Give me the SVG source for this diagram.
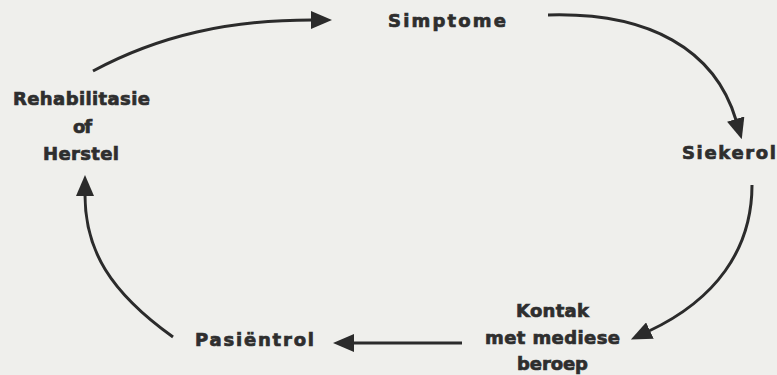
<svg xmlns="http://www.w3.org/2000/svg" width="777" height="375" viewBox="0 0 777 375">
  <style>
    .lbl { font-family: "DejaVu Sans", "Liberation Sans", sans-serif; font-weight: bold; font-size: 18px; fill: #2e2e2e; stroke: #2e2e2e; stroke-width: 0.7; }
    .conn { fill: none; stroke: #2b2b2b; stroke-width: 3; marker-end: url(#head); }
  </style>
  <defs>
    <marker id="head" markerUnits="userSpaceOnUse" markerWidth="21" markerHeight="18" refX="1" refY="9" orient="auto">
      <path d="M0,0 L21,9 L0,18 Z" fill="#2b2b2b"/>
    </marker>
  </defs>
  <rect x="0" y="0" width="777" height="375" fill="#efefec"/>

  <g id="connectors">
    <path class="conn" d="M93,71 C160,35 230,20 312,20"/>
    <path class="conn" d="M548,15 C650,12 715,50 736,120"/>
    <path class="conn" d="M752,185 C752,250 715,300 649,331"/>
    <path class="conn" d="M462,343 L353,343"/>
    <path class="conn" d="M173,337 C110,292 85,250 85,195"/>
  </g>

  <g id="simptome">
    <text class="lbl" x="388" y="27" textLength="118" lengthAdjust="spacing">Simptome</text>
  </g>
  <g id="siekerol">
    <text class="lbl" x="682" y="159" textLength="94" lengthAdjust="spacing">Siekerol</text>
  </g>
  <g id="kontak">
    <text class="lbl" x="516" y="317" textLength="73" lengthAdjust="spacing">Kontak</text>
    <text class="lbl" x="485" y="344" textLength="135" lengthAdjust="spacing">met mediese</text>
    <text class="lbl" x="517" y="370" textLength="71" lengthAdjust="spacing">beroep</text>
  </g>
  <g id="pasientrol">
    <text class="lbl" x="195" y="346" textLength="119" lengthAdjust="spacing">Pasiëntrol</text>
  </g>
  <g id="rehabilitasie">
    <text class="lbl" x="13" y="105" textLength="137" lengthAdjust="spacing">Rehabilitasie</text>
    <text class="lbl" x="73" y="133" textLength="19" lengthAdjust="spacing">of</text>
    <text class="lbl" x="43" y="160" textLength="76" lengthAdjust="spacing">Herstel</text>
  </g>
</svg>
